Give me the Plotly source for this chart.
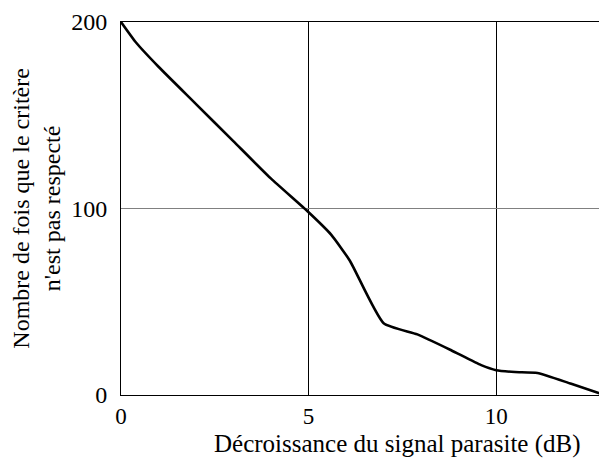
import plotly.graph_objects as go

x_db = [0, 0.4, 1, 2, 3, 4, 5, 5.6, 6.1, 7.0, 7.9, 8.8, 9.6, 10.0, 10.5, 11.1, 12.0, 12.9]
y_count = [200, 189, 176, 156, 136, 116, 98, 86, 72, 38.5, 32.5, 24, 16, 13.3, 12.3, 11.8, 6, 0]

x_ticks = [0, 5, 10]
y_ticks = [0, 100, 200]

FONT = "Liberation Serif, Times New Roman, serif"

# page has an 8px body margin; plot area in page: x 121..606, y 18..395
W, H = 599, 467
L, T, R, B = 113, 10, 1, 80
PW, PH = W - L - R, H - T - B

fig = go.Figure()
fig.add_trace(go.Scatter(x=x_db, y=y_count, mode="lines",
                         line=dict(color="black", width=2.6, shape="spline", smoothing=0.5),
                         showlegend=False, hoverinfo="skip"))

fig.update_layout(
    width=W, height=H,
    margin=dict(l=L, r=R, t=T, b=B),
    paper_bgcolor="white", plot_bgcolor="white",
    font=dict(family=FONT, size=23, color="black"),
    xaxis=dict(range=[0, 12.9], tickvals=x_ticks, ticks="", showgrid=True,
               gridcolor="black", gridwidth=1, zeroline=False,
               showline=True, linecolor="black", linewidth=1, mirror=True,
               tickfont=dict(size=23), ticklabelstandoff=0, ticklabeloverflow="allow"),
    yaxis=dict(range=[0, 200], tickvals=y_ticks, ticks="", showgrid=True,
               gridcolor="#808080", gridwidth=1, zeroline=False,
               showline=True, linecolor="black", linewidth=1, mirror=True,
               tickfont=dict(size=24), ticklabelstandoff=8, ticklabeloverflow="allow"),
    annotations=[
        dict(text="Décroissance du signal parasite (dB)", xref="paper", yref="paper",
             x=(398 - 121) / PW, y=-(445 - 395) / PH, xanchor="center", yanchor="middle",
             showarrow=False, font=dict(size=25)),
        dict(text="Nombre de fois que le critère<br>n'est pas respecté", xref="paper", yref="paper",
             x=(36 - 121) / PW, y=0.5, xanchor="center", yanchor="middle", textangle=-90,
             showarrow=False, font=dict(size=24)),
    ],
)

fig.write_html("out.html")
